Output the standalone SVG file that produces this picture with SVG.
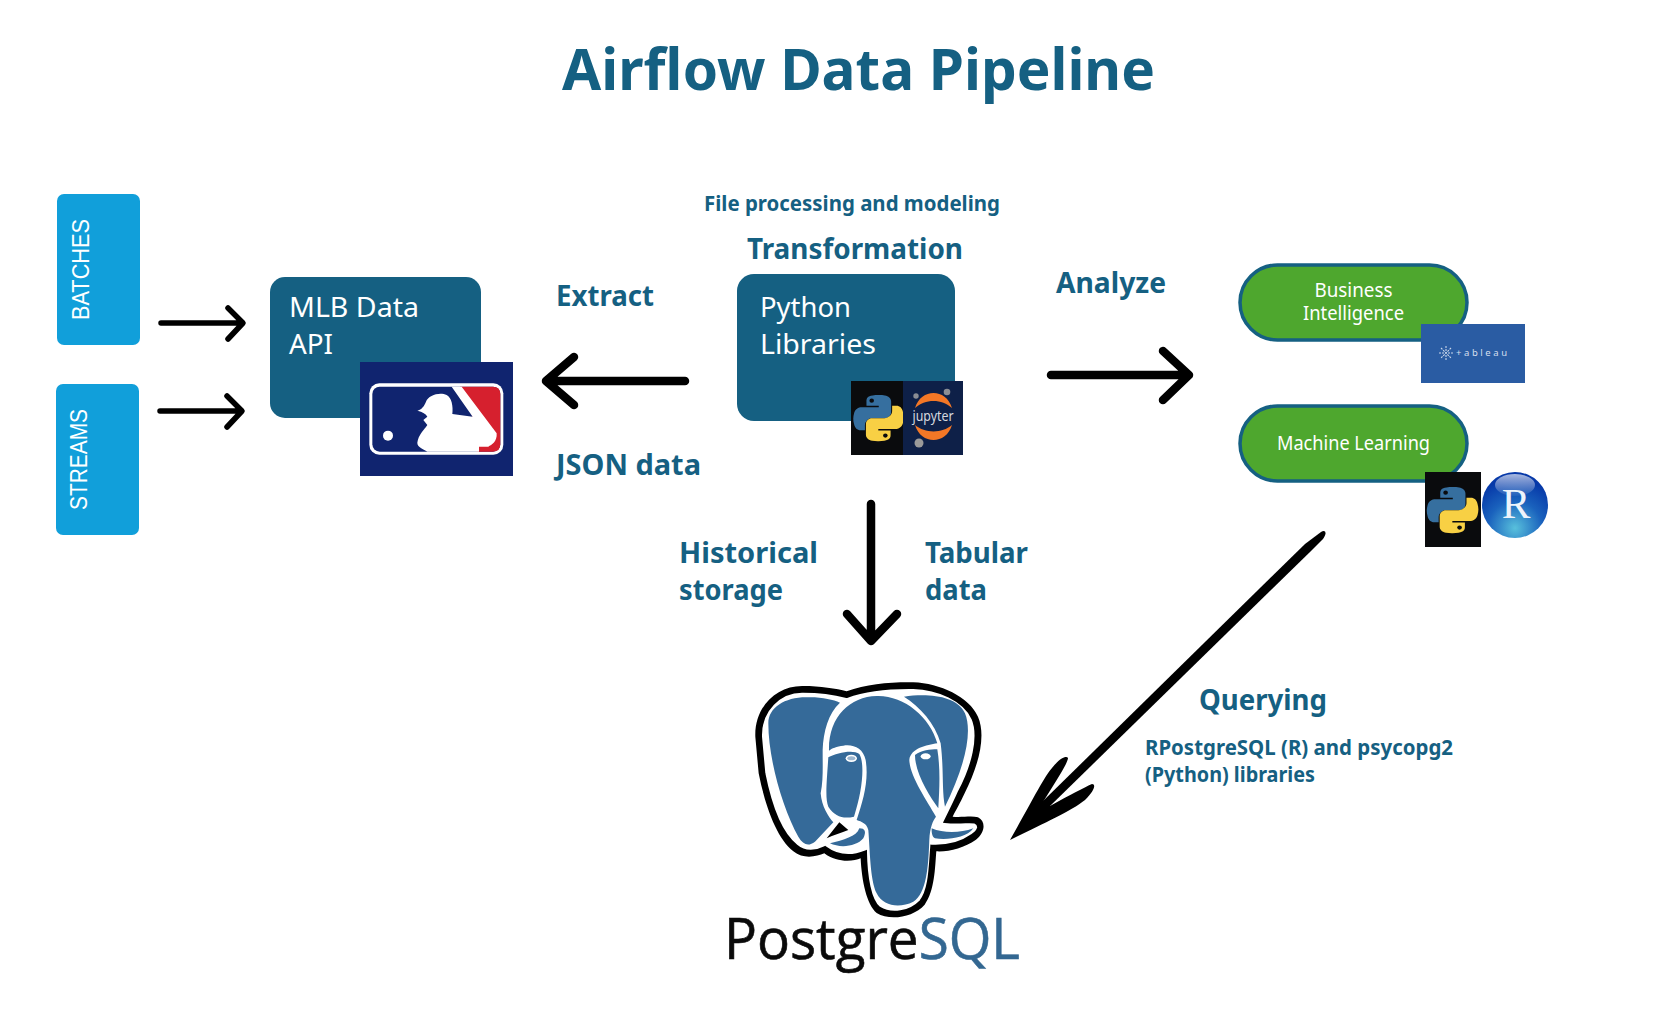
<svg xmlns="http://www.w3.org/2000/svg" xmlns:xlink="http://www.w3.org/1999/xlink" width="1662" height="1027" viewBox="0 0 1662 1027">
<style>
text{font-family:"Noto Sans","Open Sans","Liberation Sans",sans-serif}
.h{fill:#156082;font-weight:700}
.w{fill:#fff}
.card{fill:#156082}
.side{fill:#119fda}
.sl{font-family:"Liberation Sans",Arial,sans-serif;fill:#fff;font-size:24px}
.pill{fill:#4ea72e;stroke:#156082;stroke-width:3.5}
.ar{fill:none;stroke:#000;stroke-linecap:round;stroke-linejoin:round}
</style>
<defs>
<radialGradient id="rg" cx="50%" cy="85%" r="75%"><stop offset="0" stop-color="#58c0dc"/><stop offset=".55" stop-color="#1a62bd"/><stop offset="1" stop-color="#0638a8"/></radialGradient>
<linearGradient id="rh" x1="0" y1="0" x2="0" y2="1"><stop offset="0" stop-color="#fff" stop-opacity=".65"/><stop offset="1" stop-color="#fff" stop-opacity=".05"/></linearGradient>
<g id="py">
<path fill="#366f9f" d="M54.9 .1C50.3 .1 45.9 .5 42 1.2 30.6 3.2 28.5 7.4 28.5 15.2V25.5H55.5V29H18.4C10.5 29 3.6 33.7 1.4 42.7-1.1 53.1-1.2 59.6 1.4 70.4 3.3 78.5 7.9 84.2 15.8 84.2H25.1V71.8C25.1 62.8 32.9 54.9 42.2 54.9H69.1C76.6 54.9 82.7 48.7 82.7 41.1V15.2C82.7 7.8 76.5 2.3 69.1 1.1 64.4 .3 59.5 0 54.9 .1Z"/>
<path fill="#f8d044" d="M55.1 109.9C59.7 109.9 64.1 109.5 68 108.8 79.4 106.8 81.5 102.6 81.5 94.8V84.5H54.5V81H91.6C99.5 81 106.4 76.3 108.6 67.3 111.1 56.9 111.2 50.4 108.6 39.6 106.7 31.5 102.1 25.8 94.2 25.8H84.9V38.2C84.9 47.2 77.1 55.1 67.8 55.1H40.9C33.4 55.1 27.3 61.3 27.3 68.9V94.8C27.3 102.2 33.5 107.7 40.9 108.9 45.6 109.7 50.5 110 55.1 109.9Z"/>
<circle cx="40" cy="13.5" r="5" fill="#0a0b0d"/><circle cx="70" cy="96.5" r="5" fill="#0a0b0d"/>
</g>
</defs>
<rect width="1662" height="1027" fill="#fff"/>

<text id="title" class="h" x="562" y="90" font-size="57" textLength="593" lengthAdjust="spacingAndGlyphs">Airflow Data Pipeline</text>

<g id="batches"><rect class="side" x="57" y="194" width="83" height="151" rx="7"/><text class="sl" transform="translate(88.500 320) rotate(-90)" textLength="101" lengthAdjust="spacingAndGlyphs">BATCHES</text></g>
<g id="streams"><rect class="side" x="56" y="384" width="83" height="151" rx="7"/><text class="sl" transform="translate(87 510) rotate(-90)" textLength="101" lengthAdjust="spacingAndGlyphs">STREAMS</text></g>

<g id="mlb-api">
<rect class="card" x="270" y="277" width="211" height="141" rx="15"/>
<text class="w" x="289" y="317" font-size="28" textLength="130" lengthAdjust="spacingAndGlyphs">MLB Data</text>
<text class="w" x="289" y="354" font-size="28" textLength="44" lengthAdjust="spacingAndGlyphs">API</text>
<rect x="360" y="362" width="153" height="114" fill="#10246f"/>
<g transform="translate(340 260) scale(.3333)">
<rect x="88" y="370" width="402" height="214" rx="30" fill="#fff"/>
<rect x="97" y="380" width="384" height="195" rx="22" fill="#10246f"/>
<path fill="#d6202e" d="M360 380H459Q481 380 481 402V553Q481 575 459 575H410V500Z"/>
<path fill="#fff" d="M232 452C245 448 252 440 258 425 265 405 300 395 320 405 335 412 340 440 337 462L398 470 335 380H365L470 520C472 545 455 555 445 560H417V575H262C245 565 232 560 232 548 235 525 252 510 262 495L250 480 262 470C258 462 248 455 232 452Z"/>
<circle cx="144" cy="527" r="15" fill="#fff"/>
</g>
</g>

<g id="python-libraries">
<rect class="card" x="737" y="274" width="218" height="147" rx="17"/>
<text class="w" x="760" y="317" font-size="28" textLength="91" lengthAdjust="spacingAndGlyphs">Python</text>
<text class="w" x="760" y="354" font-size="28" textLength="116" lengthAdjust="spacingAndGlyphs">Libraries</text>
<rect x="851" y="381" width="52" height="74" fill="#0a0b0d"/>
<use href="#py" transform="translate(853.500 395) scale(.455 .42)"/>
<rect x="903" y="381" width="60" height="74" fill="#0e2048"/>
<path fill="#f37726" d="M915 408C921 388 946 388 952 408 942 398.500 925 398.500 915 408ZM915 425C925 433.500 942 433.500 952 425 946 445 921 445 915 425Z"/>
<circle cx="916" cy="396" r="2.700" fill="#8a8d94"/><circle cx="947" cy="392" r="3.300" fill="#8a8d94"/><circle cx="919" cy="443" r="4.500" fill="#9a9a9a"/>
<text x="933" y="421" font-size="14.500" fill="#d5d8df" text-anchor="middle" textLength="41" lengthAdjust="spacingAndGlyphs">jupyter</text>
</g>

<g id="business-intelligence">
<rect class="pill" x="1240" y="265" width="227" height="75" rx="37.500"/>
<text class="w" x="1353.500" y="297" font-size="19" text-anchor="middle" textLength="78" lengthAdjust="spacingAndGlyphs">Business</text>
<text class="w" x="1353.500" y="320" font-size="19" text-anchor="middle" textLength="101" lengthAdjust="spacingAndGlyphs">Intelligence</text>
<rect x="1421" y="324" width="104" height="59" fill="#2a5ca3"/>
<path stroke="#c9d6ea" stroke-width="1.100" stroke-dasharray="2 1" fill="none" d="M1446 346V360M1439 353H1453M1441 348L1451 358M1451 348L1441 358"/>
<text x="1456" y="356" font-size="9.500" fill="#d5dfee" textLength="51" lengthAdjust="spacing">+ableau</text>
</g>

<g id="machine-learning">
<rect class="pill" x="1240" y="406" width="227" height="75" rx="37.500"/>
<text class="w" x="1353.500" y="450" font-size="19" text-anchor="middle" textLength="153" lengthAdjust="spacingAndGlyphs">Machine Learning</text>
<rect x="1425" y="472" width="56" height="75" fill="#0a0b0d"/>
<use href="#py" transform="translate(1427 487) scale(.465 .42)"/>
<circle cx="1515" cy="505" r="33" fill="url(#rg)"/>
<ellipse cx="1515" cy="485" rx="20" ry="11" fill="url(#rh)"/>
<text x="1516" y="518" font-size="43" fill="#eef4fb" text-anchor="middle" style="font-family:'Liberation Serif',serif">R</text>
</g>

<g id="postgresql">
<g transform="translate(700 660) scale(.3333)">
<path fill="#000" d="M166 230C163 140 230 76 310 78 360 78 410 86 440 94 500 72 570 66 640 67 720 70 807 110 834 170 860 230 834 320 794 400 780 430 768 450 758 470 787 473 814 466 834 472 860 485 854 520 828 539 792 564 747 576 709 574 705 625 704 692 674 734 640 772 570 784 530 759 500 734 485 662 482 595 460 605 410 609 373 580 350 590 310 599 280 574 230 534 196 440 176 340Z"/>
<path fill="#fff" stroke="#000" stroke-width="8" d="M182 230C180 150 240 92 310 94 360 94 410 102 440 110 500 88 570 82 640 83 715 85 792 120 818 175 842 230 818 320 778 395 765 425 750 455 735 485 785 490 810 482 825 487 842 495 838 512 816 526 785 548 740 560 695 558 690 620 690 690 662 724 630 757 575 767 538 744 510 722 498 650 497 575 460 590 415 592 375 562 350 575 315 580 290 558 240 520 210 430 192 340Z"/>
<path fill="#356a99" d="M205 190C205 140 260 108 330 112 370 112 400 120 420 128 385 160 370 215 368 270 368 320 370 360 362 400 365 440 385 470 400 487L345 545C325 560 310 555 295 530 250 450 205 300 205 190Z"/>
<path fill="#356a99" d="M387 272C385 170 450 110 530 108 610 105 690 170 712 250 680 255 632 265 628 300 630 350 680 420 708 470 700 480 690 500 688 540 685 620 680 700 640 725 600 745 550 740 530 700 510 660 510 570 505 510 500 490 485 485 470 480 490 420 507 360 497 300 490 265 460 252 430 257 410 259 395 265 387 272Z"/>
<path fill="#356a99" d="M612 110C680 100 770 105 795 160 820 220 790 330 735 440 725 390 732 330 722 250 705 190 660 140 612 110Z"/>
<path fill="#356a99" d="M385 292C410 278 460 268 478 282 495 310 488 390 462 470 430 478 405 470 385 440 375 415 380 370 385 292Z"/>
<path fill="#356a99" d="M645 285C665 270 690 268 712 268 722 330 718 390 715 445 690 410 645 340 645 285Z"/>
<path fill="#356a99" d="M390 550C430 540 470 530 478 505 495 505 500 515 490 535 470 560 420 565 390 550ZM695 505C730 520 780 520 820 505 800 535 740 540 705 535 695 530 695 515 695 505Z"/>
<path fill="#000" d="M380 535L418 487 445 510C425 518 400 525 380 535Z"/>
<ellipse cx="454" cy="295" rx="17" ry="11" fill="#fff"/><ellipse cx="454" cy="295" rx="12" ry="6" fill="#9db7cf"/>
<ellipse cx="677" cy="289" rx="15" ry="9" fill="#fff"/>
</g>
<text x="724" y="959" font-size="56" fill="#0a0a0a" stroke="#0a0a0a" stroke-width=".6" style="font-family:'Open Sans','Noto Sans',sans-serif" textLength="296" lengthAdjust="spacingAndGlyphs">Postgre<tspan fill="#336791" stroke="#336791">SQL</tspan></text>
</g>

<g id="connectors">
<g class="ar" stroke-width="5.500">
<path d="M161 323H242M228 308L243 323 228 339"/>
<path d="M160 411H241M227 396L242 411 227 427"/>
</g>
<g class="ar" stroke-width="8.500">
<path d="M685 381H547M574 357L546 381 574 405"/>
<path d="M1051 375H1187M1163 351L1189 375 1163 400"/>
<path d="M871 504V640M847 614L871 641 897 614"/>
</g>
<path fill="#000" d="M1321 532C1326 529 1327 534 1323 539L1311 551 1048 808 1042 802 1305 544Z"/>
<path fill="#000" d="M1010 840C1030 805 1045 775 1052 768 1058 760 1066 755 1068 758 1068 762 1060 775 1043 802L1050 806C1070 795 1085 787 1092 784 1096 784 1095 790 1085 800 1070 812 1040 825 1010 840Z"/>
</g>

<g id="labels">
<text class="h" x="704" y="211" font-size="21" textLength="296" lengthAdjust="spacingAndGlyphs">File processing and modeling</text>
<text class="h" x="747" y="259" font-size="29" textLength="216" lengthAdjust="spacingAndGlyphs">Transformation</text>
<text class="h" x="556" y="306" font-size="29" textLength="98" lengthAdjust="spacingAndGlyphs">Extract</text>
<text class="h" x="556" y="475" font-size="29" textLength="145" lengthAdjust="spacingAndGlyphs">JSON data</text>
<text class="h" x="1056" y="293" font-size="29" textLength="110" lengthAdjust="spacingAndGlyphs">Analyze</text>
<text class="h" x="679" y="563" font-size="29" textLength="139" lengthAdjust="spacingAndGlyphs">Historical</text>
<text class="h" x="679" y="600" font-size="29" textLength="104" lengthAdjust="spacingAndGlyphs">storage</text>
<text class="h" x="925" y="563" font-size="29" textLength="103" lengthAdjust="spacingAndGlyphs">Tabular</text>
<text class="h" x="925" y="600" font-size="29" textLength="62" lengthAdjust="spacingAndGlyphs">data</text>
<text class="h" x="1199" y="710" font-size="29" textLength="128" lengthAdjust="spacingAndGlyphs">Querying</text>
<text class="h" x="1145" y="755" font-size="21" textLength="308" lengthAdjust="spacingAndGlyphs">RPostgreSQL (R) and psycopg2</text>
<text class="h" x="1145" y="782" font-size="21" textLength="170" lengthAdjust="spacingAndGlyphs">(Python) libraries</text>
</g>
</svg>
